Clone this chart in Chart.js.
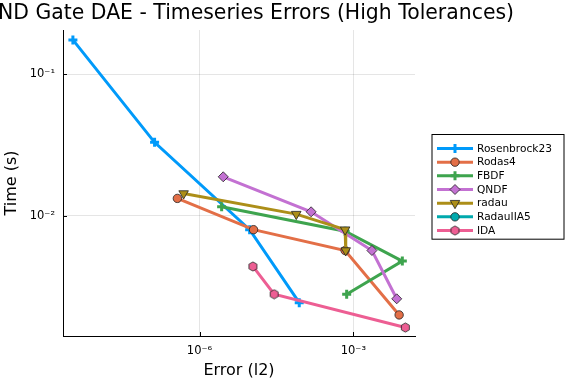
<!DOCTYPE html>
<html>
<head>
<meta charset="utf-8">
<script src="https://cdn.jsdelivr.net/npm/chart.js@4.4.0/dist/chart.umd.min.js"></script>
<style>
  html, body { margin: 0; padding: 0; background: #fff; }
  #wrap { width: 576px; height: 384px; position: relative; }
</style>
</head>
<body>
<div id="wrap"><canvas id="chart"></canvas></div>
<script>
const chartTitle = 'NAND Gate DAE - Timeseries Errors (High Tolerances)';
const xLabel = 'Error (l2)';
const yLabel = 'Time (s)';

const seriesNames = ['Rosenbrock23', 'Rodas4', 'FBDF', 'QNDF', 'radau', 'RadauIIA5', 'IDA'];
const seriesColors = ['#009AFA', '#E36F47', '#3EA44E', '#C371D2', '#AC8E18', '#00A9AD', '#ED5E93'];

const rosenbrockErr = [3.4e-9, 1.33e-7, 9.5e-6, 8.8e-5];
const rosenbrockTime = [0.175, 0.0331, 0.0080, 0.00244];
const rodasErr = [3.7e-7, 1.13e-5, 6.9e-4, 7.8e-3];
const rodasTime = [0.0133, 0.0080, 0.0057, 0.0020];
const fbdfErr = [2.7e-6, 6.9e-4, 9.0e-3, 7.4e-4];
const fbdfTime = [0.0116, 0.0078, 0.0048, 0.0028];
const qndfErr = [2.9e-6, 1.5e-4, 2.3e-3, 7.0e-3];
const qndfTime = [0.0189, 0.0107, 0.0057, 0.0026];
const radauErr = [4.9e-7, 7.7e-5, 6.9e-4, 7.1e-4];
const radauTime = [0.0144, 0.0103, 0.0080, 0.0057];
const radauIIA5Err = [];
const radauIIA5Time = [];
const idaErr = [1.1e-5, 2.85e-5, 1.03e-2];
const idaTime = [0.0044, 0.0028, 0.00163];

const xTicks = [1e-6, 1e-3];
const yTicks = [1e-1, 1e-2];
const xRange = [2.18e-9, 0.0159];
const yRange = [0.00142, 0.2056];

const FONT = "'DejaVu Sans', sans-serif";
const SUP = { '-': '\u207B', '0': '\u2070', '1': '\u00B9', '2': '\u00B2', '3': '\u00B3', '4': '\u2074', '5': '\u2075', '6': '\u2076', '7': '\u2077', '8': '\u2078', '9': '\u2079' };

function powLabel(v) {
  const e = String(Math.round(Math.log10(v)));
  return '10' + e.split('').map(c => SUP[c]).join('');
}

function toPoints(xs, ys) {
  return xs.map((x, i) => ({ x, y: ys[i] }));
}

// hexagon marker for IDA
function hexMarker(color) {
  const c = document.createElement('canvas');
  c.width = 11; c.height = 11;
  const g = c.getContext('2d');
  g.beginPath();
  for (let k = 0; k < 6; k++) {
    const a = Math.PI / 6 + k * Math.PI / 3;
    const px = 5.5 + 4.6 * Math.cos(a), py = 5.5 + 4.6 * Math.sin(a);
    k === 0 ? g.moveTo(px, py) : g.lineTo(px, py);
  }
  g.closePath();
  g.fillStyle = color;
  g.fill();
  g.lineWidth = 0.8;
  g.strokeStyle = '#222';
  g.stroke();
  return c;
}

const markers = [
  { pointStyle: 'cross', radius: 4.5, borderWidth: 3, rotation: 0, outline: false },
  { pointStyle: 'circle', radius: 4.2, borderWidth: 0.8, rotation: 0, outline: true },
  { pointStyle: 'cross', radius: 4.5, borderWidth: 3, rotation: 0, outline: false },
  { pointStyle: 'rectRot', radius: 5, borderWidth: 0.8, rotation: 0, outline: true },
  { pointStyle: 'triangle', radius: 5.5, borderWidth: 0.8, rotation: 180, outline: true },
  { pointStyle: 'circle', radius: 4.2, borderWidth: 0.8, rotation: 0, outline: true },
  { pointStyle: hexMarker(seriesColors[6]), radius: 5, borderWidth: 0.8, rotation: 0, outline: true }
];

const seriesData = [
  toPoints(rosenbrockErr, rosenbrockTime),
  toPoints(rodasErr, rodasTime),
  toPoints(fbdfErr, fbdfTime),
  toPoints(qndfErr, qndfTime),
  toPoints(radauErr, radauTime),
  toPoints(radauIIA5Err, radauIIA5Time),
  toPoints(idaErr, idaTime)
];

const datasets = seriesNames.map((name, i) => ({
  label: name,
  data: seriesData[i],
  borderColor: seriesColors[i],
  backgroundColor: seriesColors[i],
  borderWidth: 3,
  tension: 0,
  pointStyle: markers[i].pointStyle,
  pointRadius: markers[i].radius,
  pointHoverRadius: markers[i].radius,
  pointRotation: markers[i].rotation,
  pointBorderWidth: markers[i].borderWidth,
  pointBorderColor: markers[i].outline ? '#222' : seriesColors[i],
  pointBackgroundColor: seriesColors[i],
  order: 10 - i
}));

// title is wider than the canvas on the left, like the original
const titlePlugin = {
  id: 'titleText',
  afterDraw(chart) {
    const ctx = chart.ctx;
    ctx.save();
    ctx.font = '20.4px ' + FONT;
    ctx.fillStyle = '#000';
    ctx.textAlign = 'right';
    ctx.textBaseline = 'alphabetic';
    ctx.fillText(chartTitle, 514, 18.5);
    ctx.restore();
  }
};

const innerTicks = {
  id: 'innerTicks',
  afterDraw(chart) {
    const { ctx, chartArea, scales } = chart;
    ctx.save();
    ctx.strokeStyle = '#000';
    ctx.lineWidth = 1;
    ctx.beginPath();
    xTicks.forEach(v => {
      const px = Math.round(scales.x.getPixelForValue(v)) + 0.5;
      ctx.moveTo(px, chartArea.bottom);
      ctx.lineTo(px, chartArea.bottom - 4);
    });
    yTicks.forEach(v => {
      const py = Math.round(scales.y.getPixelForValue(v)) + 0.5;
      ctx.moveTo(chartArea.left, py);
      ctx.lineTo(chartArea.left + 4, py);
    });
    ctx.stroke();
    ctx.restore();
  }
};

const legendPlugin = {
  id: 'sideLegend',
  afterDraw(chart) {
    const ctx = chart.ctx;
    const left = chart.chartArea.right + 17;
    const top = 134.5;
    const rowH = 13.67;
    const width = 132;
    const height = rowH * seriesNames.length + 9;
    ctx.save();
    ctx.fillStyle = '#fff';
    ctx.fillRect(left, top, width, height);
    ctx.strokeStyle = '#000';
    ctx.lineWidth = 1;
    ctx.strokeRect(left, top, width, height);
    ctx.font = '10.6px ' + FONT;
    ctx.textBaseline = 'middle';
    seriesNames.forEach((name, i) => {
      const y = top + 14 + i * rowH;
      ctx.strokeStyle = seriesColors[i];
      ctx.lineWidth = 3;
      ctx.beginPath();
      ctx.moveTo(left + 5, y);
      ctx.lineTo(left + 41, y);
      ctx.stroke();
      const m = markers[i];
      ctx.fillStyle = seriesColors[i];
      ctx.strokeStyle = m.outline ? '#222' : seriesColors[i];
      ctx.lineWidth = m.borderWidth;
      Chart.helpers.drawPoint(ctx, {
        pointStyle: m.pointStyle,
        radius: m.radius,
        rotation: m.rotation,
        borderWidth: m.borderWidth
      }, left + 23, y);
      ctx.fillStyle = '#000';
      ctx.textAlign = 'left';
      ctx.fillText(name, left + 45, y + 0.5);
    });
    ctx.restore();
  }
};

new Chart(document.getElementById('chart'), {
  type: 'line',
  data: { datasets },
  plugins: [titlePlugin, innerTicks, legendPlugin],
  options: {
    responsive: true,
    maintainAspectRatio: false,
    animation: false,
    events: [],
    layout: { padding: { left: 0, top: 30, right: 161, bottom: 0 } },
    plugins: {
      legend: { display: false },
      title: { display: false },
      tooltip: { enabled: false }
    },
    scales: {
      x: {
        type: 'logarithmic',
        min: xRange[0],
        max: xRange[1],
        afterBuildTicks: s => { s.ticks = xTicks.map(v => ({ value: v })); },
        afterFit: s => { s.height = 48; },
        ticks: {
          callback: v => powLabel(v),
          color: '#000',
          font: { family: FONT, size: 11.5 },
          padding: 8,
          maxRotation: 0,
          autoSkip: false
        },
        grid: { color: 'rgba(0,0,0,0.1)', drawTicks: false },
        border: { display: true, color: '#000', width: 1 },
        title: {
          display: true,
          text: xLabel,
          color: '#000',
          font: { family: FONT, size: 16 },
          padding: { top: 0, bottom: 4 }
        }
      },
      y: {
        type: 'logarithmic',
        min: yRange[0],
        max: yRange[1],
        afterBuildTicks: s => { s.ticks = yTicks.map(v => ({ value: v })); },
        afterFit: s => { s.width = 63; },
        ticks: {
          callback: v => powLabel(v),
          color: '#000',
          font: { family: FONT, size: 11.5 },
          padding: 8,
          autoSkip: false
        },
        grid: { color: 'rgba(0,0,0,0.1)', drawTicks: false },
        border: { display: true, color: '#000', width: 1 },
        title: {
          display: true,
          text: yLabel,
          color: '#000',
          font: { family: FONT, size: 16 },
          padding: { top: 2, bottom: 0 }
        }
      }
    }
  }
});
</script>
</body>
</html>
